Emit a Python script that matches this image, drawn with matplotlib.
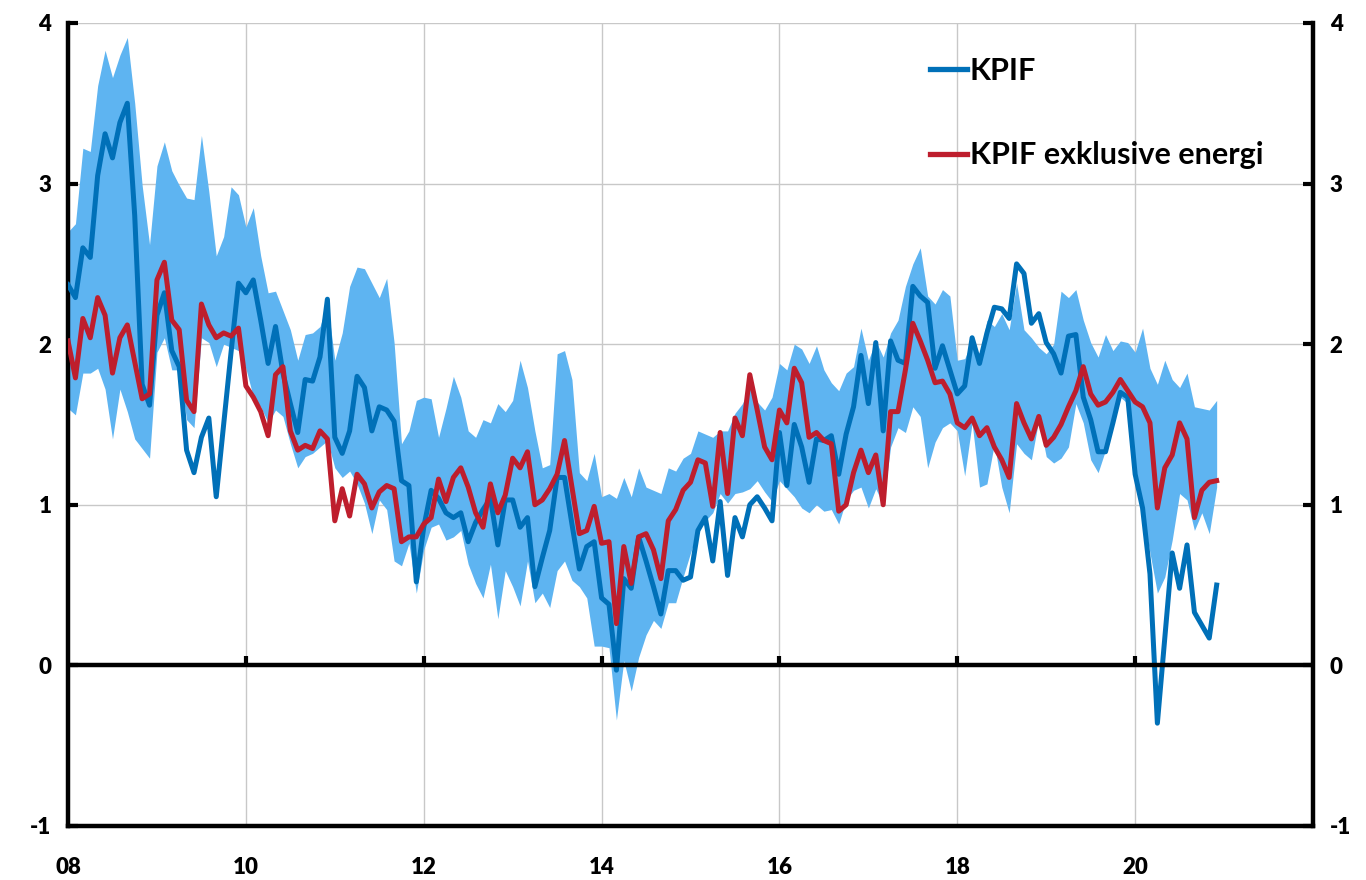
import matplotlib
matplotlib.use('Agg')
import matplotlib.pyplot as plt
import numpy as np

# monthly values, Jan 2008 - Dec 2020
kpif = [2.37, 2.29, 2.60, 2.54, 3.05, 3.31, 3.16, 3.38, 3.50, 2.80,
        1.75, 1.62, 2.18, 2.32, 1.96, 1.86, 1.34, 1.20, 1.42, 1.54,
        1.05, 1.50, 1.95, 2.38, 2.32, 2.40, 2.15, 1.88, 2.11, 1.82,
        1.63, 1.45, 1.78, 1.77, 1.92, 2.28, 1.42, 1.32, 1.46, 1.80,
        1.73, 1.46, 1.61, 1.59, 1.52, 1.15, 1.12, 0.52, 0.86, 1.09,
        1.04, 0.95, 0.92, 0.95, 0.77, 0.89, 0.97, 1.04, 0.75, 1.03,
        1.03, 0.86, 0.92, 0.49, 0.67, 0.84, 1.17, 1.17, 0.88, 0.60,
        0.74, 0.77, 0.42, 0.38, -0.03, 0.54, 0.48, 0.80, 0.65, 0.49,
        0.32, 0.59, 0.59, 0.53, 0.55, 0.84, 0.92, 0.65, 1.02, 0.56,
        0.92, 0.80, 1.00, 1.05, 0.98, 0.90, 1.45, 1.12, 1.50, 1.36,
        1.14, 1.41, 1.40, 1.43, 1.19, 1.44, 1.61, 1.93, 1.63, 2.01,
        1.46, 2.02, 1.90, 1.88, 2.36, 2.30, 2.26, 1.85, 1.99, 1.84,
        1.69, 1.74, 2.04, 1.88, 2.07, 2.23, 2.22, 2.16, 2.50, 2.44,
        2.13, 2.19, 2.01, 1.94, 1.82, 2.05, 2.06, 1.67, 1.53, 1.33,
        1.33, 1.51, 1.70, 1.67, 1.19, 0.98, 0.57, -0.36, 0.17, 0.70,
        0.48, 0.75, 0.33, 0.25, 0.17, 0.50]

kpif_ex_energy = [2.02, 1.79, 2.16, 2.04, 2.29, 2.18, 1.82, 2.04, 2.12, 1.89,
                  1.66, 1.69, 2.40, 2.51, 2.15, 2.09, 1.65, 1.58, 2.25, 2.12,
                  2.04, 2.07, 2.05, 2.10, 1.74, 1.67, 1.58, 1.43, 1.81, 1.86,
                  1.46, 1.34, 1.37, 1.35, 1.46, 1.41, 0.90, 1.10, 0.93, 1.19,
                  1.13, 0.98, 1.08, 1.12, 1.10, 0.77, 0.80, 0.80, 0.88, 0.92,
                  1.16, 1.02, 1.17, 1.23, 1.11, 0.95, 0.86, 1.13, 0.95, 1.06,
                  1.29, 1.23, 1.33, 1.00, 1.03, 1.10, 1.19, 1.40, 1.11, 0.82,
                  0.84, 0.99, 0.76, 0.77, 0.26, 0.74, 0.51, 0.80, 0.82, 0.72,
                  0.54, 0.90, 0.97, 1.09, 1.14, 1.28, 1.26, 0.99, 1.45, 1.07,
                  1.54, 1.43, 1.81, 1.59, 1.36, 1.28, 1.59, 1.51, 1.85, 1.76,
                  1.42, 1.45, 1.40, 1.38, 0.96, 1.00, 1.20, 1.34, 1.20, 1.31,
                  1.00, 1.58, 1.58, 1.84, 2.13, 2.02, 1.90, 1.76, 1.77, 1.69,
                  1.51, 1.48, 1.54, 1.43, 1.48, 1.36, 1.28, 1.17, 1.63, 1.51,
                  1.41, 1.55, 1.37, 1.42, 1.50, 1.61, 1.71, 1.86, 1.69, 1.62,
                  1.64, 1.70, 1.78, 1.71, 1.64, 1.61, 1.51, 0.98, 1.23, 1.31,
                  1.51, 1.41, 0.92, 1.09, 1.14, 1.15]

band_high = [2.70, 2.75, 3.22, 3.20, 3.61, 3.83, 3.66, 3.80, 3.91, 3.50,
             2.99, 2.62, 3.11, 3.26, 3.08, 2.99, 2.91, 2.90, 3.30, 2.95,
             2.55, 2.67, 2.98, 2.93, 2.73, 2.85, 2.55, 2.32, 2.33, 2.21,
             2.09, 1.90, 2.06, 2.07, 2.11, 2.26, 1.90, 2.07, 2.36, 2.48,
             2.47, 2.38, 2.29, 2.41, 2.01, 1.38, 1.46, 1.65, 1.67, 1.66,
             1.42, 1.60, 1.80, 1.67, 1.46, 1.42, 1.53, 1.51, 1.63, 1.58,
             1.65, 1.90, 1.73, 1.46, 1.23, 1.25, 1.94, 1.96, 1.78, 1.20,
             1.15, 1.32, 1.05, 1.07, 1.04, 1.17, 1.05, 1.23, 1.11, 1.09,
             1.07, 1.23, 1.21, 1.29, 1.32, 1.46, 1.44, 1.42, 1.46, 1.46,
             1.57, 1.63, 1.73, 1.64, 1.59, 1.67, 1.88, 1.84, 2.00, 1.97,
             1.88, 1.99, 1.84, 1.76, 1.71, 1.82, 1.86, 2.10, 1.90, 2.02,
             1.92, 2.07, 2.15, 2.36, 2.50, 2.60, 2.30, 2.25, 2.34, 2.30,
             1.90, 1.91, 2.02, 1.92, 2.15, 2.11, 2.19, 2.09, 2.38, 2.09,
             2.04, 1.98, 1.94, 2.00, 2.33, 2.29, 2.34, 2.15, 2.01, 1.92,
             2.06, 1.96, 2.02, 2.01, 1.95, 2.10, 1.85, 1.75, 1.90, 1.78,
             1.73, 1.82, 1.61, 1.60, 1.59, 1.65]

band_low = [1.60, 1.56, 1.82, 1.82, 1.85, 1.72, 1.41, 1.72, 1.58, 1.41,
            1.35, 1.29, 1.95, 2.04, 1.84, 1.84, 1.53, 1.48, 2.04, 2.01,
            1.86, 2.00, 1.98, 1.96, 1.85, 1.67, 1.61, 1.51, 1.59, 1.55,
            1.38, 1.23, 1.30, 1.32, 1.36, 1.40, 1.23, 1.17, 1.21, 1.13,
            1.01, 0.82, 1.03, 0.97, 0.65, 0.62, 0.76, 0.45, 0.72, 0.86,
            0.88, 0.78, 0.80, 0.84, 0.63, 0.51, 0.42, 0.63, 0.29, 0.59,
            0.49, 0.37, 0.65, 0.39, 0.45, 0.36, 0.59, 0.65, 0.53, 0.49,
            0.42, 0.12, 0.12, 0.11, -0.34, 0.03, -0.16, 0.05, 0.19, 0.28,
            0.23, 0.39, 0.39, 0.55, 0.70, 0.84, 0.90, 0.95, 1.07, 1.01,
            1.07, 1.08, 1.10, 1.15, 1.08, 1.02, 1.15, 1.10, 1.05, 0.98,
            0.95, 1.00, 0.96, 0.97, 0.88, 1.03, 1.09, 1.11, 0.98, 1.10,
            1.00, 1.36, 1.48, 1.45, 1.61, 1.55, 1.23, 1.39, 1.48, 1.51,
            1.46, 1.18, 1.51, 1.11, 1.13, 1.38, 1.11, 0.95, 1.38, 1.32,
            1.28, 1.53, 1.30, 1.26, 1.29, 1.36, 1.63, 1.51, 1.28, 1.20,
            1.34, 1.55, 1.67, 1.63, 1.15, 0.95, 0.70, 0.45, 0.55, 0.78,
            1.07, 1.03, 0.84, 0.95, 0.82, 1.11]

year_ticks = [2008, 2010, 2012, 2014, 2016, 2018, 2020]
year_labels = ['08', '10', '12', '14', '16', '18', '20']
y_ticks = [-1, 0, 1, 2, 3, 4]

t = 2008 + np.arange(len(kpif)) / 12

plt.rcParams['font.family'] = ['Lato', 'DejaVu Sans']
plt.rcParams['font.weight'] = 'heavy'
plt.rcParams['axes.unicode_minus'] = False

fig = plt.figure(figsize=(13.66, 8.8), dpi=100)
ax = fig.add_axes([0.0498, 0.0614, 0.9114, 0.9125])

ax.fill_between(t, band_low, band_high, color='#5EB4F1', lw=0, zorder=1)
ax.plot(t, kpif, color='#0070B8', lw=3.6, zorder=3, label='KPIF')
ax.plot(t, kpif_ex_energy, color='#BE1E2D', lw=3.6, zorder=4, label='KPIF exklusive energi')

ax.set_xlim(2008, 2022)
ax.set_ylim(-1, 4)
ax.set_yticks(y_ticks)
ax.set_yticklabels([str(v) for v in y_ticks])
ax.set_xticks(year_ticks)
ax.set_xticklabels(year_labels)
ax.grid(True, color='#C8C8C8', lw=1)
ax.set_axisbelow(True)

# zero line with the year ticks sitting on it
ax.axhline(0, color='black', lw=3.2, zorder=5)
ax.vlines(year_ticks[1:], 0, 0.06, color='black', lw=3, zorder=5)

for side in ['left', 'right', 'bottom']:
    ax.spines[side].set_linewidth(3.2)
ax.spines['top'].set_visible(False)

ax.tick_params(axis='x', length=0, pad=22, labelsize=16)
ax.tick_params(axis='y', direction='in', length=7, width=3, labelsize=16,
               left=True, right=True, labelleft=True, labelright=True, pad=12)

leg = ax.legend(loc='upper left', bbox_to_anchor=(0.680, 0.977), frameon=False,
                borderpad=0, handlelength=1.2, handletextpad=0.1, labelspacing=1.85,
                prop={'size': 22, 'weight': 'bold'})
for line in leg.get_lines():
    line.set_linewidth(3.8)

fig.savefig('out.png', dpi=100)
